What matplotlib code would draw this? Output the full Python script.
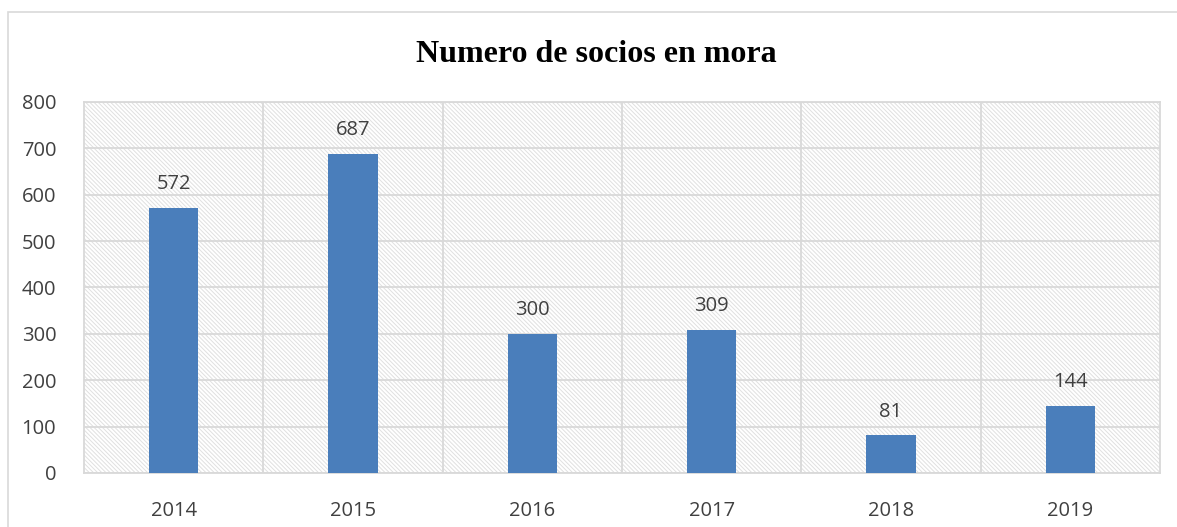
import matplotlib.pyplot as plt
from matplotlib.patches import Rectangle

years = ["2014", "2015", "2016", "2017", "2018", "2019"]
socios = [572, 687, 300, 309, 81, 144]
yticks = [0, 100, 200, 300, 400, 500, 600, 700, 800]

plt.rcParams['hatch.color'] = '#d9d9d9'
plt.rcParams['hatch.linewidth'] = 0.7

fig = plt.figure(figsize=(11.77, 5.27), dpi=100)
ax = fig.add_axes([0.0714, 0.1025, 0.9142, 0.704])

# outer chart frame
fig.patches.append(Rectangle((0.0068, -0.1), 1.1, 1.077, transform=fig.transFigure,
                             fill=False, edgecolor='#d9d9d9', linewidth=1.2))

ax.patch.set_facecolor('white')
ax.patch.set_hatch('\\' * 8)
ax.patch.set_edgecolor('#e0e0e0')

x = range(len(years))
bars = ax.bar(x, socios, width=0.275, color='#4a7ebb', zorder=3)
for xi, v in zip(x, socios):
    ax.annotate(str(v), (xi, v), xytext=(0, 10), textcoords='offset points',
                ha='center', va='bottom', fontsize=14.5, color='#404040',
                family='Open Sans')

ax.set_xlim(-0.5, len(years) - 0.5)
ax.set_ylim(0, 800)
ax.set_yticks(yticks)
ax.set_xticks([i + 0.5 for i in range(len(years) - 1)], minor=True)
ax.set_xticks(list(x))
ax.set_xticklabels(years)
ax.grid(True, which='major', axis='y', color='#d9d9d9', linewidth=1.3, zorder=1)
ax.grid(True, which='minor', axis='x', color='#d9d9d9', linewidth=1.3, zorder=1)
ax.set_axisbelow(True)
ax.tick_params(which='both', length=0)
ax.tick_params(axis='y', pad=20, labelsize=14.5, labelcolor='#404040')
ax.tick_params(axis='x', pad=20, labelsize=14.5, labelcolor='#404040')
for lab in ax.get_xticklabels() + ax.get_yticklabels():
    lab.set_family('Open Sans')
for s in ax.spines.values():
    s.set_color('#d9d9d9')
    s.set_linewidth(1.3)

fig.text(0.507, 0.897, "Numero de socios en mora", ha='center', va='center',
         fontsize=23, fontweight='bold', family='Liberation Serif')

fig.savefig("out.png", dpi=100)
